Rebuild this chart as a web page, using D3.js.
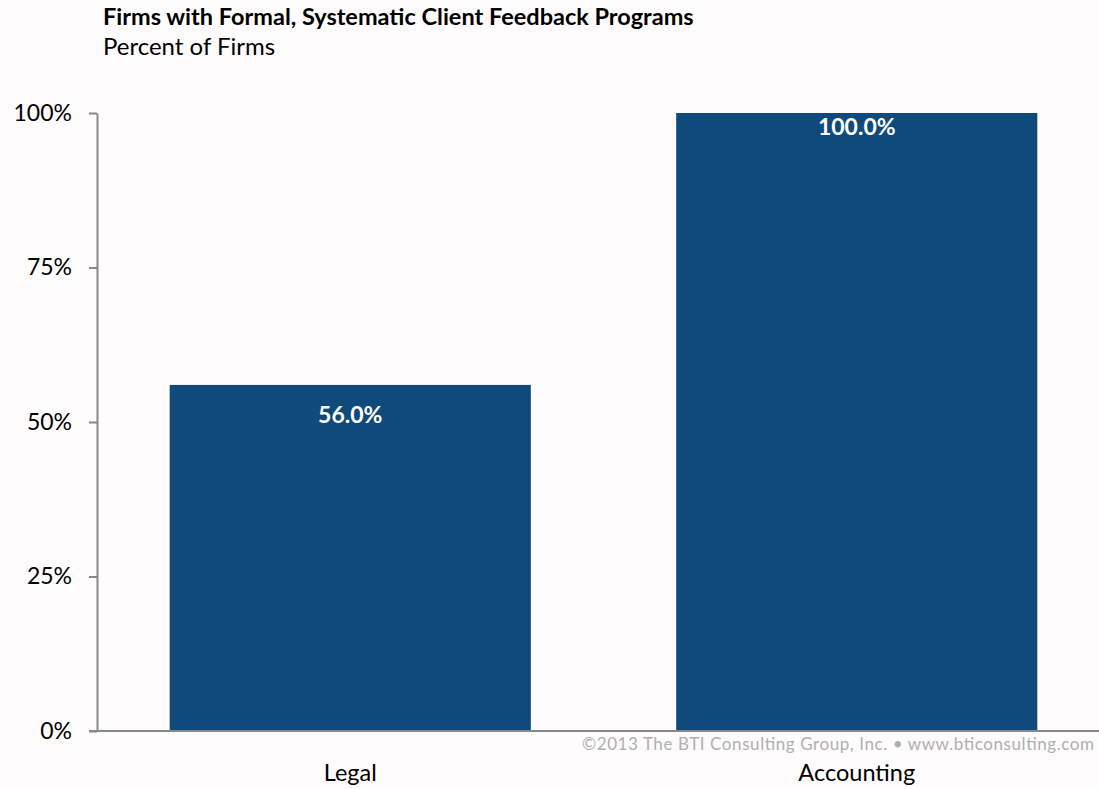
<!DOCTYPE html>
<html><head><meta charset="utf-8">
<script src="https://cdn.jsdelivr.net/npm/d3@7"></script>
<style>body{margin:0;background:#fefcfd;}svg{display:block;}</style>
</head><body>
<svg id="c" width="1099" height="789"></svg>
<script>
const categories = ["Legal", "Accounting"];
const values = [56.0, 100.0];
const yTicks = [0, 25, 50, 75, 100];
const title = "Firms with Formal, Systematic Client Feedback Programs";
const subtitle = "Percent of Firms";
const credit = "©2013 The BTI Consulting Group, Inc. • www.bticonsulting.com";

const svg = d3.select("#c");
const font = "Lato, 'Open Sans', sans-serif";
const x = d3.scaleBand().domain(categories).range([97, 1110]).paddingInner(0.287).paddingOuter(0.1435);
const y = d3.scaleLinear().domain([0, 100]).range([731, 113]);

svg.append("rect").attr("width",1099).attr("height",789).attr("fill","#fefcfd");

svg.append("text").attr("x",103).attr("y",25).attr("font-family",font).attr("font-weight","bold").attr("font-size",23.5).attr("fill","#000").text(title);
svg.append("text").attr("x",103).attr("y",55).attr("font-family",font).attr("font-size",24).attr("fill","#000").text(subtitle);

svg.selectAll("rect.bar").data(values).join("rect").attr("class","bar")
  .attr("x",(d,i)=>x(categories[i])).attr("width",x.bandwidth())
  .attr("y",d=>y(d)).attr("height",d=>y(0)-y(d)).attr("fill","#104a7a");

svg.selectAll("text.val").data(values).join("text").attr("class","val")
  .attr("x",(d,i)=>x(categories[i])+x.bandwidth()/2).attr("y",d=>y(d)+(d>=100?22:38))
  .attr("text-anchor","middle").attr("font-family",font).attr("font-weight","bold").attr("font-size",23).attr("fill","#fff")
  .text(d=>d.toFixed(1)+"%");

// y axis
const ya = svg.append("g").attr("transform","translate(97,0)")
  .call(d3.axisLeft(y).tickValues(yTicks).tickFormat(d=>d+"%").tickSize(8).tickSizeOuter(0));
ya.select(".domain").attr("stroke","#888").attr("stroke-width",2);
ya.selectAll(".tick line").attr("stroke","#888").attr("stroke-width",2);
ya.selectAll(".tick text").attr("font-family",font).attr("font-size",23).attr("fill","#000").attr("x",-25);

// x axis line
svg.append("line").attr("x1",89).attr("x2",1099).attr("y1",731).attr("y2",731).attr("stroke","#888").attr("stroke-width",2);
const xa = svg.append("g").attr("transform","translate(0,731)")
  .call(d3.axisBottom(x).tickSize(0));
xa.select(".domain").remove();
xa.selectAll(".tick text").attr("font-family",font).attr("font-size",23.5).attr("fill","#000").attr("dy",0).attr("y",50);

svg.append("text").attr("x",582).attr("y",750).attr("textLength",512).attr("lengthAdjust","spacing")
  .attr("font-family",font).attr("font-size",17).attr("fill","#b0b0b0").text(credit);
</script>
</body></html>
